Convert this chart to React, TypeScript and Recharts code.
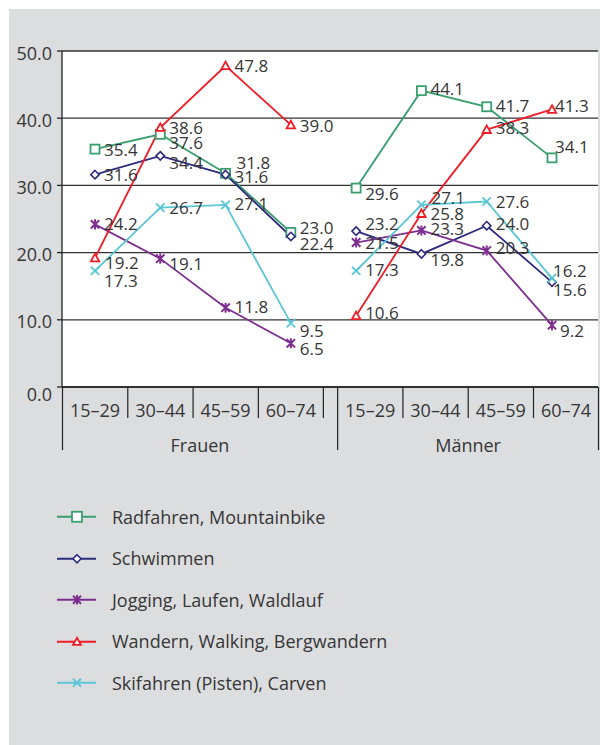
import React from 'react';
import { LineChart, Line, XAxis, YAxis, CartesianGrid, Legend } from 'recharts';

// ---------- data ----------
const groups = ['Frauen', 'Männer'];
const ageBands = ['15–29', '30–44', '45–59', '60–74'];
const yTicks = [0, 10, 20, 30, 40, 50];

const seriesNames = [
  'Radfahren, Mountainbike',
  'Schwimmen',
  'Jogging, Laufen, Waldlauf',
  'Wandern, Walking, Bergwandern',
  'Skifahren (Pisten), Carven',
];

// Frauen 15–29 … 60–74, then Männer 15–29 … 60–74
const radfahren = [35.4, 37.6, 31.8, 23.0, 29.6, 44.1, 41.7, 34.1];
const schwimmen = [31.6, 34.4, 31.6, 22.4, 23.2, 19.8, 24.0, 15.6];
const jogging = [24.2, 19.1, 11.8, 6.5, 21.5, 23.3, 20.3, 9.2];
const wandern = [19.2, 38.6, 47.8, 39.0, 10.6, 25.8, 38.3, 41.3];
const skifahren = [17.3, 26.7, 27.1, 9.5, 17.3, 27.1, 27.6, 16.2];

// ---------- styling / layout ----------
const FONT = "'Open Sans', 'Noto Sans', sans-serif";
const TEXT = '#363636';
const AXIS = '#222222';
const BG = '#dcdddf';
const W = 591;
const H = 736;
const PLOT_TOP = 42;
const Y_AXIS_W = 53;
const RIGHT_M = 2;
const XAXIS_H = 80;
const PLOT_BOTTOM = 378;
const PAD_L = 33;
const PAD_R = 46;
const PLOT_W = W - Y_AXIS_W - RIGHT_M;

const categories = groups.flatMap((g) => ageBands.map((a) => `${g}|${a}`));
const GROUP_SIZE = ageBands.length;
const STEP = (PLOT_W - PAD_L - PAD_R) / (categories.length - 1);
const GROUP_SHIFT = 14;
const HALF = 32.5;

// label nudges [dx, dy] for the value labels
const radNudge = [[9, 0], [9, 8], [11, -11], [9, -5], [9, 5], [9, -2], [9, -1], [3, -11]];
const schNudge = [[9, 0], [9, 7], [9, 2], [9, 7], [9, -8], [9, 6], [9, -2], [1, 7]];
const jogNudge = [[9, -1], [9, 5], [9, -1], [9, 5], [9, 0], [9, -2], [9, -3], [8, 5]];
const wanNudge = [[10, 5], [9, 0], [9, 0], [9, 1], [9, -3], [9, 0], [9, -2], [3, -4]];
const skiNudge = [[9, 10], [9, 0], [9, -1], [9, 7], [9, -1], [10, -7], [9, 0], [1, -8]];

type Shape = 'square' | 'diamond' | 'star' | 'triangle' | 'x';
interface Series {
  key: string;
  name: string;
  values: number[];
  color: string;
  shape: Shape;
  nudge: number[][];
}

const series: Series[] = [
  { key: 'rad', name: seriesNames[0], values: radfahren, color: '#3a9f6f', shape: 'square', nudge: radNudge },
  { key: 'sch', name: seriesNames[1], values: schwimmen, color: '#2e2b7e', shape: 'diamond', nudge: schNudge },
  { key: 'jog', name: seriesNames[2], values: jogging, color: '#7d2f8f', shape: 'star', nudge: jogNudge },
  { key: 'wan', name: seriesNames[3], values: wandern, color: '#ef1d26', shape: 'triangle', nudge: wanNudge },
  { key: 'ski', name: seriesNames[4], values: skifahren, color: '#5ac6d6', shape: 'x', nudge: skiNudge },
];

const rows = categories.map((cat, i) => {
  const r: Record<string, any> = { cat };
  const g = Math.floor(i / GROUP_SIZE);
  series.forEach((s) => {
    groups.forEach((_, gi) => {
      r[`${s.key}_${gi}`] = gi === g ? s.values[i] : null;
    });
  });
  return r;
});

function Marker({ shape, cx, cy, color, s }: { shape: Shape; cx: number; cy: number; color: string; s: number }) {
  switch (shape) {
    case 'square':
      return <rect x={cx - s} y={cy - s} width={2 * s} height={2 * s} fill="#fff" stroke={color} strokeWidth={1.8} />;
    case 'diamond':
      return (
        <path d={`M${cx},${cy - s}L${cx + s},${cy}L${cx},${cy + s}L${cx - s},${cy}Z`} fill="#fff" stroke={color} strokeWidth={1.6} />
      );
    case 'star':
      return (
        <path
          d={`M${cx - s},${cy - s}L${cx + s},${cy + s}M${cx - s},${cy + s}L${cx + s},${cy - s}M${cx},${cy - s * 1.2}L${cx},${cy + s * 1.2}`}
          stroke={color}
          strokeWidth={2}
          fill="none"
        />
      );
    case 'triangle':
      return (
        <path d={`M${cx},${cy - s}L${cx + s},${cy + s * 0.8}L${cx - s},${cy + s * 0.8}Z`} fill="#fff" stroke={color} strokeWidth={1.8} />
      );
    default:
      return (
        <path d={`M${cx - s},${cy - s}L${cx + s},${cy + s}M${cx - s},${cy + s}L${cx + s},${cy - s}`} stroke={color} strokeWidth={1.8} fill="none" />
      );
  }
}

const makeDot = (s: Series) => (props: any) => {
  const { cx, cy, index, value, key } = props;
  if (value == null || cy == null || Number.isNaN(cy)) return <g key={key} />;
  const v = Array.isArray(value) ? value[1] : value;
  if (v == null) return <g key={key} />;
  const [dx, dy] = s.nudge[index] || [9, 0];
  return (
    <g key={key}>
      <Marker shape={s.shape} cx={cx} cy={cy} color={s.color} s={s.shape === 'square' ? 4.5 : 4.2} />
      <text x={cx + dx} y={cy + dy} dominantBaseline="central" fontSize={17} fontFamily={FONT} fill={TEXT}>
        {Number(v).toFixed(1)}
      </text>
    </g>
  );
};

const YTick = (props: any) => {
  const { x, y, payload } = props;
  const off = payload.value === 0 ? 7 : 1.5;
  return (
    <text x={x} y={y + off} textAnchor="end" dominantBaseline="central" fontSize={18} fontFamily={FONT} fill={TEXT}>
      {Number(payload.value).toFixed(1)}
    </text>
  );
};

const XTick = (props: any) => {
  const { x, y, index } = props;
  const g = Math.floor(index / GROUP_SIZE);
  const pos = index % GROUP_SIZE;
  const cx = x + g * GROUP_SHIFT;
  const label = ageBands[pos];
  const shortLen = 31;
  const longLen = 63;
  const els: React.ReactNode[] = [];
  els.push(
    <line key="l" x1={cx - HALF} x2={cx - HALF} y1={y} y2={y + (pos === 0 ? longLen : shortLen)} stroke={AXIS} strokeWidth={1.2} />
  );
  if (pos === GROUP_SIZE - 1) {
    const last = g === groups.length - 1;
    els.push(
      <line key="r" x1={cx + HALF} x2={cx + HALF} y1={y} y2={y + (last ? longLen : shortLen)} stroke={AXIS} strokeWidth={1.2} />
    );
  }
  els.push(
    <text key="t" x={cx} y={y + 30} textAnchor="middle" fontSize={18} fontFamily={FONT} fill={TEXT}>
      {label}
    </text>
  );
  if (pos === 0) {
    const gx = cx + 1.5 * STEP + (g === 0 ? GROUP_SHIFT / 2 : 0);
    els.push(
      <text key="g" x={gx} y={y + 65} textAnchor="middle" fontSize={18} fontFamily={FONT} fill={TEXT}>
        {groups[g]}
      </text>
    );
  }
  return <g>{els}</g>;
};

const ROW_H = 41.5;
const LegendContent = () => (
  <div style={{ fontFamily: FONT, fontSize: 18, color: TEXT }}>
    {series.map((s) => (
      <div key={s.key} style={{ height: ROW_H, display: 'flex', alignItems: 'center' }}>
        <svg width={103} height={ROW_H} style={{ display: 'block', flex: 'none' }}>
          <line x1={48} x2={87} y1={ROW_H / 2} y2={ROW_H / 2} stroke={s.color} strokeWidth={2} />
          <Marker shape={s.shape} cx={68} cy={ROW_H / 2} color={s.color} s={s.shape === 'square' ? 5 : 4} />
        </svg>
        <span style={{ whiteSpace: 'nowrap' }}>{s.name}</span>
      </div>
    ))}
  </div>
);

export default function App() {
  return (
    <div style={{ position: 'absolute', left: 0, top: 0, width: 600, height: 745, background: '#fff', overflow: 'hidden' }}>
      <div style={{ position: 'absolute', left: 9, top: 9, width: W, height: H, background: BG }}>
        <LineChart
          width={W}
          height={H}
          data={rows}
          margin={{ top: PLOT_TOP, right: RIGHT_M, left: 0, bottom: H - PLOT_BOTTOM - XAXIS_H }}
        >
          <CartesianGrid vertical={false} stroke="#333" strokeWidth={1.3} fill="#ffffff" fillOpacity={1} />
          <XAxis
            dataKey="cat"
            interval={0}
            height={XAXIS_H}
            padding={{ left: PAD_L, right: PAD_R }}
            tickLine={false}
            tickSize={0}
            tickMargin={0}
            axisLine={{ stroke: AXIS, strokeWidth: 1.3 }}
            tick={<XTick />}
          />
          <YAxis
            width={Y_AXIS_W}
            domain={[0, 50]}
            ticks={yTicks}
            interval={0}
            tickSize={5}
            tickMargin={5}
            tickLine={{ stroke: AXIS, strokeWidth: 1.3 }}
            axisLine={{ stroke: AXIS, strokeWidth: 1.3 }}
            tick={<YTick />}
          />
          <YAxis
            yAxisId="r"
            orientation="right"
            width={0}
            domain={[0, 50]}
            tick={false}
            tickLine={false}
            axisLine={{ stroke: AXIS, strokeWidth: 1.3 }}
          />
          {series.flatMap((s) =>
            groups.map((_, gi) => (
              <Line
                key={`${s.key}_${gi}`}
                dataKey={`${s.key}_${gi}`}
                name={s.name}
                type="linear"
                stroke={s.color}
                strokeWidth={1.8}
                dot={makeDot(s)}
                activeDot={false}
                isAnimationActive={false}
                legendType="none"
              />
            ))
          )}
          <Legend
            layout="vertical"
            align="center"
            verticalAlign="middle"
            wrapperStyle={{ left: 0, top: 487, width: 450 }}
            content={<LegendContent />}
          />
        </LineChart>
      </div>
    </div>
  );
}
